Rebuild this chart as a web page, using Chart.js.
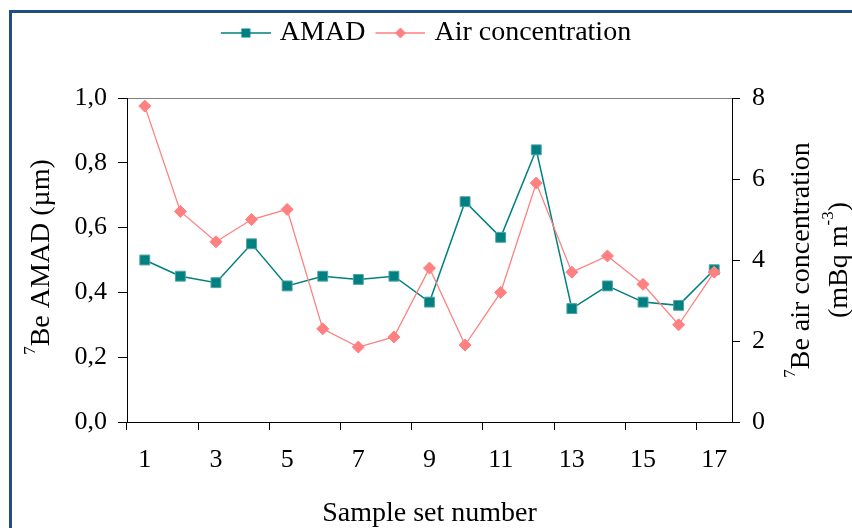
<!DOCTYPE html>
<html>
<head>
<meta charset="utf-8">
<script src="https://cdn.jsdelivr.net/npm/chart.js@4.4.1/dist/chart.umd.min.js"></script>
<style>
  html, body { margin: 0; padding: 0; background: #fff; }
  #wrap { position: relative; width: 852px; height: 528px; overflow: hidden; }
  #frame {
    position: absolute; left: 9px; top: 10px; width: 900px; height: 600px;
    border-left: 3px solid #1f4e85; border-top: 3px solid #1f4e85;
  }
  #chart { position: absolute; left: 0; top: 0; }
</style>
</head>
<body>
<div id="wrap">
  <div id="frame"></div>
  <canvas id="chart" width="852" height="528"></canvas>
</div>
<script>
const samples = ["1", "2", "3", "4", "5", "6", "7", "8", "9", "10", "11", "12", "13", "14", "15", "16", "17"];
const amad = [0.50, 0.45, 0.43, 0.55, 0.42, 0.45, 0.44, 0.45, 0.37, 0.68, 0.57, 0.84, 0.35, 0.42, 0.37, 0.36, 0.47];
const airConc = [7.8, 5.2, 4.45, 5.0, 5.25, 2.3, 1.85, 2.1, 3.8, 1.9, 3.2, 5.9, 3.7, 4.1, 3.4, 2.4, 3.7];

const seriesNames = ["AMAD", "Air concentration"];
const xTitle = "Sample set number";
// [text, superscript?] pieces for the rotated titles
const leftTitle = [["7", true], ["Be AMAD (\u00b5m)", false]];
const rightTitle1 = [["7", true], ["Be air concentration", false]];
const rightTitle2 = [["(mBq m", false], ["-3", true], [")", false]];

const family = '"Liberation Serif", "Times New Roman", serif';
const teal = "#008080";
const pink = "#ff8080";

Chart.defaults.font.family = family;
Chart.defaults.color = "#000";

// legend swatch: a short line with the marker in the middle
function legendIcon(color, style) {
  const c = document.createElement("canvas");
  c.width = 55;
  c.height = 14;
  const g = c.getContext("2d");
  g.strokeStyle = color;
  g.lineWidth = 1.5;
  g.beginPath();
  g.moveTo(5, 7);
  g.lineTo(55, 7);
  g.stroke();
  g.fillStyle = color;
  if (style === "rect") {
    g.fillRect(25.5, 2.5, 9, 9);
  } else {
    g.beginPath();
    g.moveTo(30, 1.5);
    g.lineTo(35.5, 7);
    g.lineTo(30, 12.5);
    g.lineTo(24.5, 7);
    g.closePath();
    g.fill();
  }
  return c;
}
const legendIcons = [legendIcon(teal, "rect"), legendIcon(pink, "diamond")];

function drawSupText(ctx, parts, cx, cy, size) {
  const supSize = Math.round(size * 0.62);
  let total = 0;
  const widths = parts.map(([t, sup]) => {
    ctx.font = (sup ? supSize : size) + "px " + family;
    const w = ctx.measureText(t).width;
    total += w;
    return w;
  });
  let x = cx - total / 2;
  parts.forEach(([t, sup], i) => {
    ctx.font = (sup ? supSize : size) + "px " + family;
    ctx.fillText(t, x, sup ? cy - size * 0.4 : cy);
    x += widths[i];
  });
}

// both y titles read bottom-to-top and carry superscripts
const axisTitles = {
  id: "axisTitles",
  afterDraw(chart) {
    const { ctx, chartArea, scales } = chart;
    const cy = (chartArea.top + chartArea.bottom) / 2;
    ctx.save();
    ctx.fillStyle = "#000";
    ctx.textBaseline = "middle";
    ctx.textAlign = "left";

    ctx.save();
    ctx.translate(scales.y.left + 42, cy - 3);
    ctx.rotate(-Math.PI / 2);
    drawSupText(ctx, leftTitle, 0, 0, 28);
    ctx.restore();

    ctx.save();
    ctx.translate(scales.y1.left + 70, cy);
    ctx.rotate(-Math.PI / 2);
    drawSupText(ctx, rightTitle1, 0, 0, 28);
    drawSupText(ctx, rightTitle2, 0, 38, 28);
    ctx.restore();

    ctx.restore();
  }
};

// leave room between the legend and the plot
const legendGap = {
  id: "legendGap",
  beforeInit(chart) {
    const fit = chart.legend.fit;
    chart.legend.fit = function () {
      fit.call(this);
      this.height += 41;
    };
  }
};

new Chart("chart", {
  type: "line",
  data: {
    labels: samples,
    datasets: [
      {
        label: seriesNames[0],
        data: amad,
        yAxisID: "y",
        borderColor: teal,
        backgroundColor: teal,
        borderWidth: 1.5,
        pointStyle: "rect",
        pointRadius: 7,
        pointBackgroundColor: teal,
        pointBorderColor: "#4fa3a3",
        pointBorderWidth: 1,
        order: 2
      },
      {
        label: seriesNames[1],
        data: airConc,
        yAxisID: "y1",
        borderColor: pink,
        backgroundColor: pink,
        borderWidth: 1.3,
        pointStyle: "rectRot",
        pointRadius: 6,
        pointBackgroundColor: pink,
        pointBorderColor: pink,
        pointBorderWidth: 1,
        order: 1
      }
    ]
  },
  options: {
    responsive: false,
    animation: false,
    devicePixelRatio: 1,
    layout: { padding: { top: 9, left: 0, right: 0, bottom: 0 } },
    plugins: {
      tooltip: { enabled: false },
      legend: {
        labels: {
          usePointStyle: true,
          pointStyleWidth: 45,
          padding: 10,
          font: { size: 28 },
          color: "#000",
          generateLabels: (chart) =>
            chart.data.datasets.map((ds, i) => ({
              text: ds.label,
              pointStyle: legendIcons[i],
              fillStyle: "transparent",
              strokeStyle: "transparent",
              lineWidth: 0,
              hidden: false,
              datasetIndex: i
            }))
        }
      }
    },
    scales: {
      x: {
        offset: true,
        grid: {
          offset: true,
          drawOnChartArea: false,
          tickLength: 8,
          tickColor: (c) => (c.index % 2 === 0 ? "#000" : "rgba(0,0,0,0)")
        },
        border: { color: "#000", width: 1 },
        ticks: {
          autoSkip: false,
          maxRotation: 0,
          padding: 15,
          font: { size: 26 },
          callback: (v, i) => (i % 2 === 0 ? samples[i] : "")
        },
        title: { display: true, text: xTitle, font: { size: 28, lineHeight: 1 }, padding: 0 },
        afterFit: (s) => { s.height = 106; }
      },
      y: {
        position: "left",
        min: 0,
        max: 1,
        ticks: {
          stepSize: 0.2,
          padding: 11,
          font: { size: 26 },
          callback: (v) => v.toFixed(1).replace(".", ",")
        },
        grid: {
          tickLength: 9,
          tickColor: "#000",
          color: (c) => (c.tick && Math.abs(c.tick.value - 1) < 1e-9 ? "#808080" : "rgba(0,0,0,0)")
        },
        border: { color: "#000", width: 1 },
        afterFit: (s) => { s.width = 127; }
      },
      y1: {
        position: "right",
        min: 0,
        max: 8,
        ticks: { stepSize: 2, padding: 12, font: { size: 26 } },
        grid: { drawOnChartArea: false, tickLength: 8, tickColor: "#000" },
        border: { color: "#000", width: 1 },
        afterFit: (s) => { s.width = 120; }
      }
    }
  },
  plugins: [legendGap, axisTitles]
});
</script>
</body>
</html>
